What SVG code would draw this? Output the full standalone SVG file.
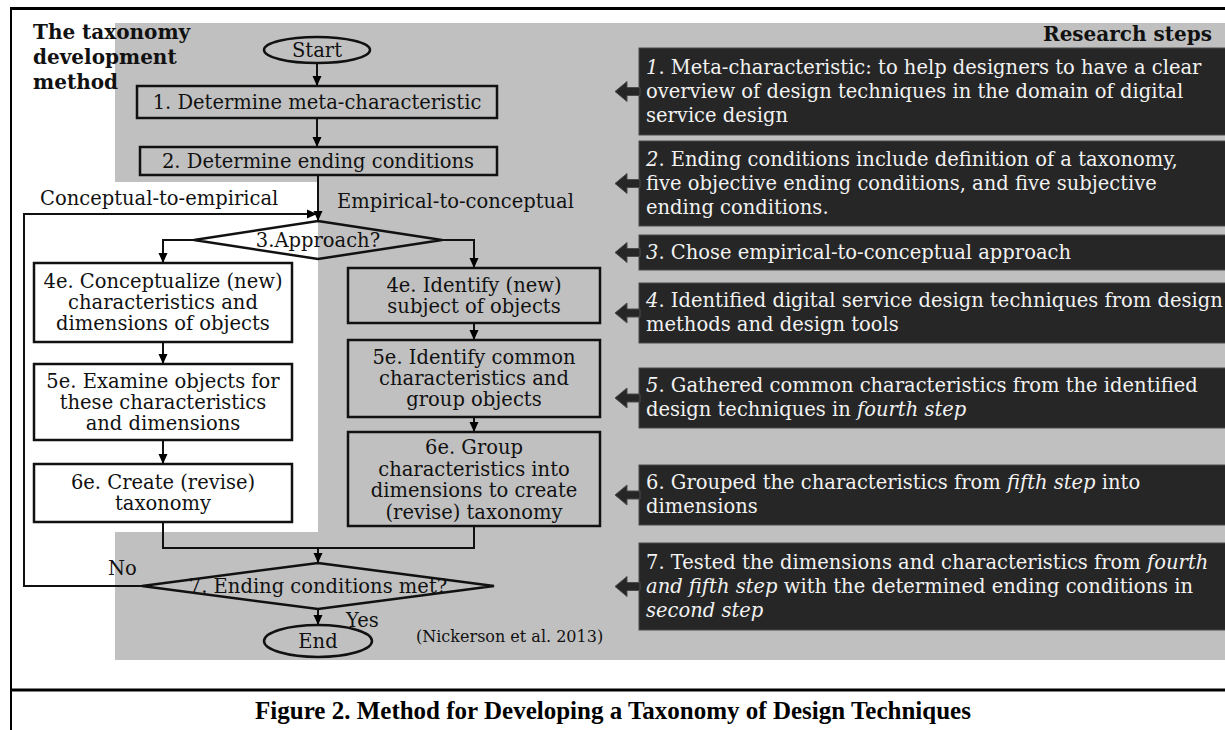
<svg xmlns="http://www.w3.org/2000/svg" width="1225" height="730" viewBox="0 0 1225 730">
<defs>
<marker id="ah" markerUnits="userSpaceOnUse" markerWidth="10" markerHeight="10" refX="10" refY="5" orient="auto">
<path d="M0,0.5 L10,5 L0,9.5 z" fill="#000"/>
</marker>
<style>
.f{font-family:"DejaVu Serif","Liberation Serif",serif;font-size:19.5px;fill:#111}
.c{text-anchor:middle}
.sm{font-size:16px}
.box{fill:none;stroke:#111;stroke-width:2.5}
.wbox{fill:#fff;stroke:#111;stroke-width:2.5}
.con{fill:none;stroke:#111;stroke-width:2}
.dk{fill:#262626;stroke:#4a4a4a;stroke-width:1}
.r{font-family:"DejaVu Serif","Liberation Serif",serif;font-size:19.5px;fill:#f2f2f2}
.b{font-family:"DejaVu Serif","Liberation Serif",serif;font-weight:bold;font-size:20px;fill:#111}
.i{font-style:italic}
</style>
</defs>
<rect width="1225" height="730" fill="#fff"/>
<path d="M115,23 H1225 V660 H115 V532 H318 V182 H115 Z" fill="#c0c0c0"/>
<g id="frame" fill="none" stroke="#000">
<line x1="10" y1="8.5" x2="1225" y2="8.5" stroke-width="3"/>
<line x1="11" y1="8" x2="11" y2="730" stroke-width="2"/>
<line x1="10" y1="690" x2="1225" y2="690" stroke-width="3"/>
</g>
<g id="title">
<text class="b" x="33" y="39">The taxonomy</text>
<text class="b" x="33" y="64">development</text>
<text class="b" x="33" y="89">method</text>
</g>
<text class="b" x="1212" y="41" text-anchor="end">Research steps</text>
<g id="connectors">
<path class="con" d="M317,63 V86" marker-end="url(#ah)"/>
<path class="con" d="M317,118 V147" marker-end="url(#ah)"/>
<path class="con" d="M318,175 V221" marker-end="url(#ah)"/>
<path class="con" d="M142,586 H24 V214 H317" marker-end="url(#ah)"/>
<path class="con" d="M194,240 H163 V263" marker-end="url(#ah)"/>
<path class="con" d="M442,240 H474 V268" marker-end="url(#ah)"/>
<path class="con" d="M163,342 V364" marker-end="url(#ah)"/>
<path class="con" d="M163,440 V464" marker-end="url(#ah)"/>
<path class="con" d="M474,323 V340" marker-end="url(#ah)"/>
<path class="con" d="M474,417 V432" marker-end="url(#ah)"/>
<path class="con" d="M163,522 V548 H474 V526"/>
<path class="con" d="M318,548 V563" marker-end="url(#ah)"/>
<path class="con" d="M318,609 V625" marker-end="url(#ah)"/>
</g>
<g id="start">
<ellipse class="box" cx="317" cy="50" rx="53" ry="13"/>
<text class="f c" x="317" y="57">Start</text>
</g>
<g id="step1">
<rect class="box" x="137" y="86" width="360" height="32"/>
<text class="f c" x="317" y="108.5">1. Determine meta-characteristic</text>
</g>
<g id="step2">
<rect class="box" x="140" y="147" width="357" height="28"/>
<text class="f c" x="318" y="167.5">2. Determine ending conditions</text>
</g>
<g id="labels">
<text class="f" x="40" y="205">Conceptual-to-empirical</text>
<text class="f" x="337" y="208">Empirical-to-conceptual</text>
<text class="f" x="108" y="575">No</text>
<text class="f" x="346" y="627">Yes</text>
<text class="f sm" x="416" y="642">(Nickerson et al. 2013)</text>
</g>
<g id="approach">
<path class="box" d="M318,221 L442,240 L318,259 L194,240 Z"/>
<text class="f c" x="318" y="246.5">3.Approach?</text>
</g>
<g id="c4">
<rect class="wbox" x="34" y="263" width="258" height="79"/>
<text class="f c" x="163" y="288">4e. Conceptualize (new)</text>
<text class="f c" x="163" y="309">characteristics and</text>
<text class="f c" x="163" y="330">dimensions of objects</text>
</g>
<g id="c5">
<rect class="wbox" x="34" y="364" width="258" height="76"/>
<text class="f c" x="163" y="387.5">5e. Examine objects for</text>
<text class="f c" x="163" y="408.5">these characteristics</text>
<text class="f c" x="163" y="429.5">and dimensions</text>
</g>
<g id="c6">
<rect class="wbox" x="34" y="464" width="258" height="58"/>
<text class="f c" x="163" y="489">6e. Create (revise)</text>
<text class="f c" x="163" y="510">taxonomy</text>
</g>
<g id="e4">
<rect class="box" x="348" y="268" width="252" height="55"/>
<text class="f c" x="474" y="292">4e. Identify (new)</text>
<text class="f c" x="474" y="313">subject of objects</text>
</g>
<g id="e5">
<rect class="box" x="348" y="340" width="252" height="77"/>
<text class="f c" x="474" y="364">5e. Identify common</text>
<text class="f c" x="474" y="385">characteristics and</text>
<text class="f c" x="474" y="406">group objects</text>
</g>
<g id="e6">
<rect class="box" x="348" y="432" width="252" height="94"/>
<text class="f c" x="474" y="454">6e. Group</text>
<text class="f c" x="474" y="475.5">characteristics into</text>
<text class="f c" x="474" y="497">dimensions to create</text>
<text class="f c" x="474" y="518.5">(revise) taxonomy</text>
</g>
<g id="ending">
<path class="box" d="M318,563 L494,586 L318,609 L142,586 Z"/>
<text class="f c" x="318" y="593">7. Ending conditions met?</text>
</g>
<g id="end">
<ellipse class="box" cx="318" cy="641" rx="54" ry="16"/>
<text class="f c" x="318" y="648">End</text>
</g>
<g id="r1">
<rect class="dk" x="639" y="48" width="590" height="87"/>
<path class="dk" d="M615,91.5 L627,81.5 L627,87.5 L640,87.5 L640,95.5 L627,95.5 L627,101.5 Z"/>
<text class="r" x="646" y="74"><tspan class="i">1</tspan>. Meta-characteristic: to help designers to have a clear</text>
<text class="r" x="646" y="98">overview of design techniques in the domain of digital</text>
<text class="r" x="646" y="122">service design</text>
</g>
<g id="r2">
<rect class="dk" x="639" y="141" width="590" height="85"/>
<path class="dk" d="M615,183.5 L627,173.5 L627,179.5 L640,179.5 L640,187.5 L627,187.5 L627,193.5 Z"/>
<text class="r" x="646" y="166"><tspan class="i">2</tspan>. Ending conditions include definition of a taxonomy,</text>
<text class="r" x="646" y="190">five objective ending conditions, and five subjective</text>
<text class="r" x="646" y="214">ending conditions.</text>
</g>
<g id="r3">
<rect class="dk" x="639" y="235" width="590" height="35"/>
<path class="dk" d="M615,252.5 L627,242.5 L627,248.5 L640,248.5 L640,256.5 L627,256.5 L627,262.5 Z"/>
<text class="r" x="646" y="259"><tspan class="i">3</tspan>. Chose empirical-to-conceptual approach</text>
</g>
<g id="r4">
<rect class="dk" x="639" y="283" width="590" height="60"/>
<path class="dk" d="M615,313 L627,303 L627,309 L640,309 L640,317 L627,317 L627,323 Z"/>
<text class="r" x="646" y="307"><tspan class="i">4</tspan>. Identified digital service design techniques from design</text>
<text class="r" x="646" y="331">methods and design tools</text>
</g>
<g id="r5">
<rect class="dk" x="639" y="368" width="590" height="60"/>
<path class="dk" d="M615,398 L627,388 L627,394 L640,394 L640,402 L627,402 L627,408 Z"/>
<text class="r" x="646" y="392"><tspan class="i">5</tspan>. Gathered common characteristics from the identified</text>
<text class="r" x="646" y="416">design techniques in <tspan class="i">fourth step</tspan></text>
</g>
<g id="r6">
<rect class="dk" x="639" y="465" width="590" height="60"/>
<path class="dk" d="M615,495 L627,485 L627,491 L640,491 L640,499 L627,499 L627,505 Z"/>
<text class="r" x="646" y="489">6. Grouped the characteristics from <tspan class="i">fifth step</tspan> into</text>
<text class="r" x="646" y="513">dimensions</text>
</g>
<g id="r7">
<rect class="dk" x="639" y="543" width="590" height="87"/>
<path class="dk" d="M615,586.5 L627,576.5 L627,582.5 L640,582.5 L640,590.5 L627,590.5 L627,596.5 Z"/>
<text class="r" x="646" y="569">7. Tested the dimensions and characteristics from <tspan class="i">fourth</tspan></text>
<text class="r" x="646" y="593"><tspan class="i">and fifth step</tspan> with the determined ending conditions in</text>
<text class="r" x="646" y="617"><tspan class="i">second step</tspan></text>
</g>
<text x="613" y="719" text-anchor="middle" font-family="'Liberation Serif',serif" font-weight="bold" font-size="25" fill="#000">Figure 2. Method for Developing a Taxonomy of Design Techniques</text>
</svg>
